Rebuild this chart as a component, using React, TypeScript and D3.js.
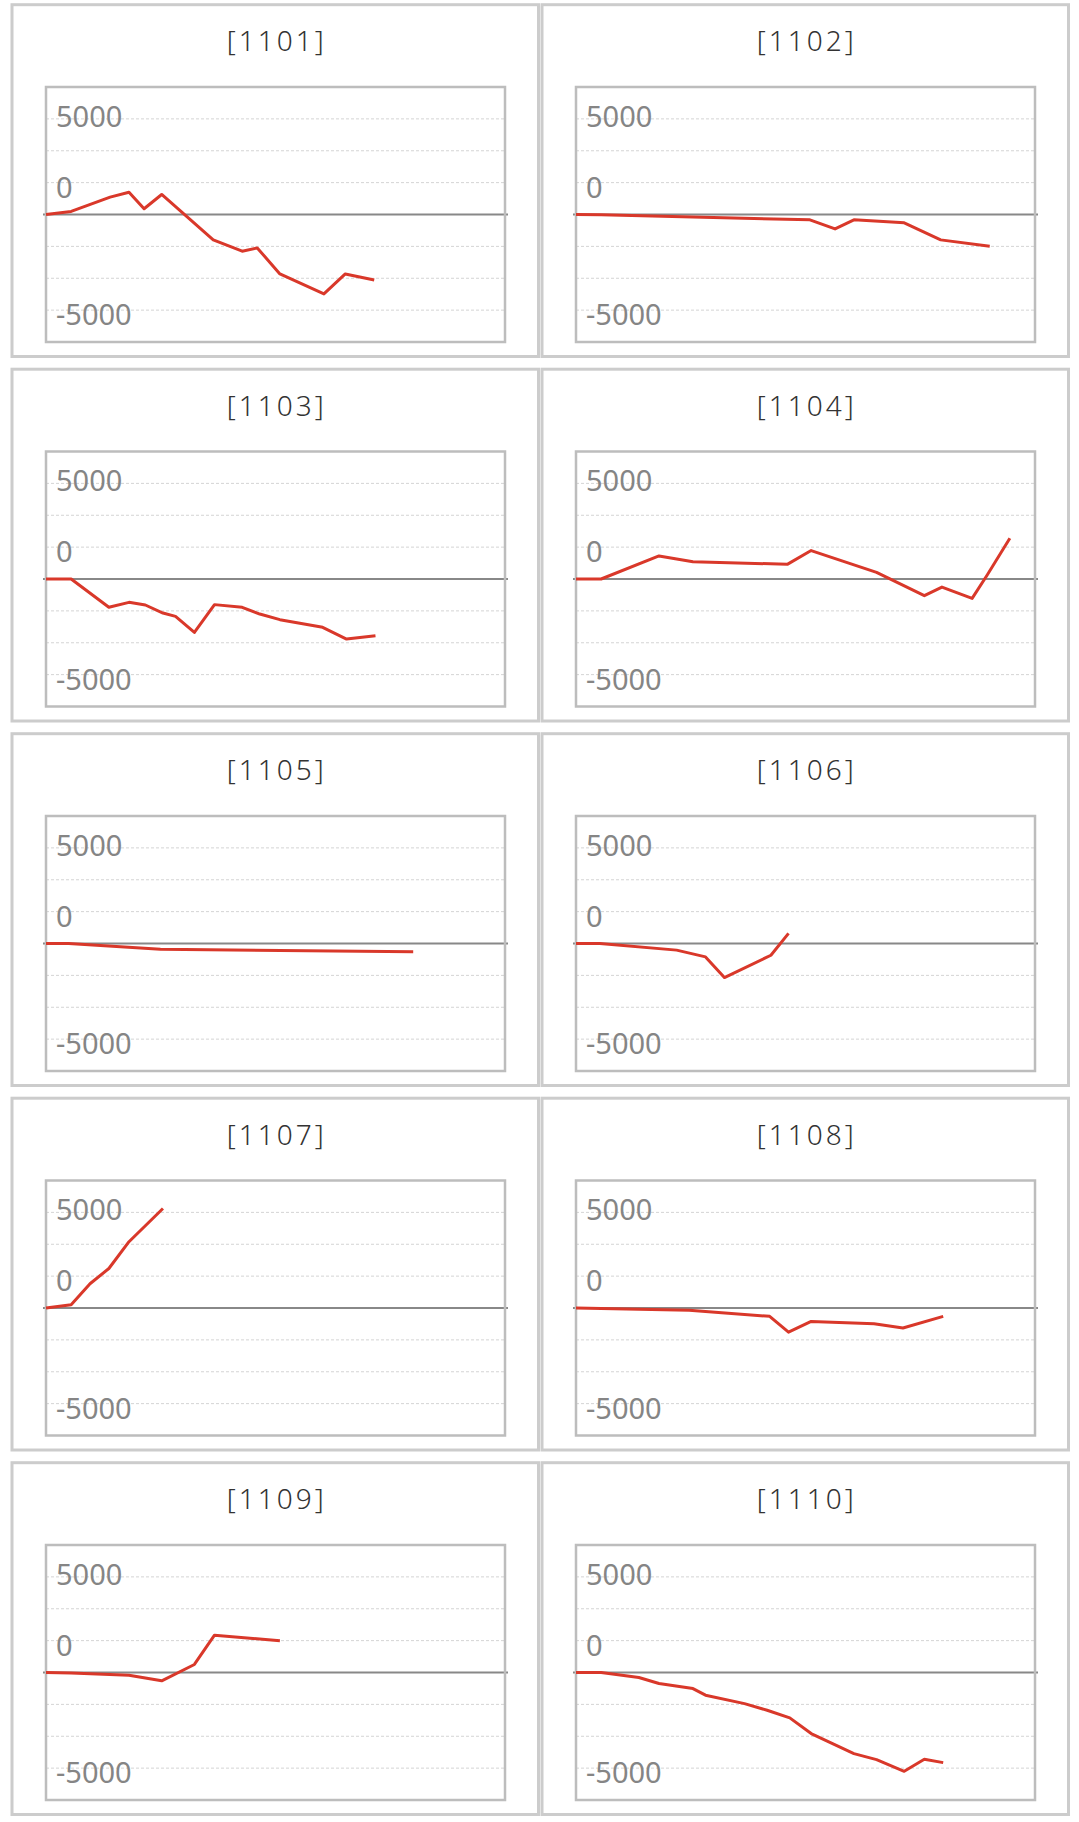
import React from "react";
import * as d3 from "d3";

// ---- data ----
const panelIds = ["1101", "1102", "1103", "1104", "1105", "1106", "1107", "1108", "1109", "1110"];

// [day, value]
const series1101: [number, number][] = [[0, 0], [20, 240], [51, 1360], [66, 1750], [78, 450], [92, 1570], [133, -1990], [156, -2880], [168, -2620], [186, -4660], [221, -6230], [238, -4660], [261, -5130]];
const series1102: [number, number][] = [[0, 0], [20, -20], [186, -420], [206, -1130], [221, -420], [261, -650], [290, -1990], [329, -2490]];
const series1103: [number, number][] = [[0, 0], [20, 0], [50, -2220], [66, -1830], [79, -2040], [93, -2670], [103, -2930], [118, -4190], [134, -2010], [156, -2220], [170, -2750], [186, -3190], [220, -3790], [239, -4710], [262, -4450]];
const series1104: [number, number][] = [[0, 0], [20, 0], [66, 1810], [93, 1360], [168, 1150], [187, 2230], [239, 520], [277, -1310], [291, -630], [315, -1520], [327, 310], [345, 3190]];
const series1105: [number, number][] = [[0, 0], [18, 0], [91, -445], [292, -655]];
const series1106: [number, number][] = [[0, 0], [19, 0], [80, -520], [103, -1050], [118, -2670], [155, -920], [169, 790]];
const series1107: [number, number][] = [[0, 0], [20, 260], [35, 1900], [50, 3100], [66, 5200], [93, 7800]];
const series1108: [number, number][] = [[0, 0], [90, -180], [154, -655], [169, -1900], [187, -1050], [237, -1230], [260, -1570], [292, -655]];
const series1109: [number, number][] = [[0, 0], [20, -30], [66, -210], [92, -655], [118, 630], [134, 2930], [186, 2490]];
const series1110: [number, number][] = [[0, 0], [20, 0], [50, -390], [66, -865], [93, -1260], [103, -1780], [134, -2440], [152, -2960], [170, -3560], [187, -4790], [204, -5580], [221, -6360], [239, -6830], [261, -7750], [277, -6810], [292, -7070]];

const seriesList = [series1101, series1102, series1103, series1104, series1105, series1106, series1107, series1108, series1109, series1110];

const xDomain: [number, number] = [0, 365];
const yDomain: [number, number] = [-10000, 10000];
const yGridValues = [-7500, -5000, -2500, 2500, 5000, 7500];
const yTickLabels = ["5000", "0", "-5000"];
const yTickLabelAt = [6900, 1300, -8700];

// ---- layout ----
const W = 1079;
const H = 1822;
const PANEL_X0 = 12;
const COL_PITCH = 530;
const PANEL_W = 526.5;
const PANEL_Y0 = 4.7;
const ROW_PITCH = 364.5;
const PANEL_H = 351.8;
const PLOT_L = 34;
const PLOT_R = 493;
const PLOT_T = 82.3;
const PLOT_B = 337.3;
const TITLE_Y = 46.3;

const FONT = "'Noto Sans', 'Open Sans', sans-serif";
const RED = "#d9382a";
const TITLE_LS = 3;

function Panel({ idx }: { idx: number }) {
  const col = idx % 2;
  const row = Math.floor(idx / 2);
  const px = PANEL_X0 + col * COL_PITCH;
  const py = PANEL_Y0 + row * ROW_PITCH;
  const x = d3.scaleLinear().domain(xDomain).range([px + PLOT_L, px + PLOT_R]);
  const y = d3.scaleLinear().domain(yDomain).range([py + PLOT_B, py + PLOT_T]);
  const line = d3
    .line<[number, number]>()
    .x((d) => x(d[0]))
    .y((d) => y(d[1]));
  const data = seriesList[idx];
  return (
    <g>
      <rect x={px} y={py} width={PANEL_W} height={PANEL_H} fill="#fff" stroke="#cccccc" strokeWidth={3} />
      <text
        x={px + PANEL_W / 2 + TITLE_LS / 2}
        y={py + TITLE_Y}
        textAnchor="middle"
        fontFamily={FONT}
        fontSize={28}
        fontWeight={300}
        letterSpacing={TITLE_LS}
        fill="#333"
      >
        [{panelIds[idx]}]
      </text>
      {yGridValues.map((v) => (
        <line
          key={v}
          x1={px + PLOT_L}
          x2={px + PLOT_R}
          y1={y(v)}
          y2={y(v)}
          stroke="#d4d4d4"
          strokeWidth={1}
          strokeDasharray="3,2"
        />
      ))}
      <line x1={px + PLOT_L - 3} x2={px + PLOT_R + 3} y1={y(0)} y2={y(0)} stroke="#888" strokeWidth={2} />
      {yTickLabels.map((t, i) => (
        <text key={t} x={px + PLOT_L + 10} y={y(yTickLabelAt[i])} fontFamily={FONT} fontSize={29} fill="#858585">
          {t}
        </text>
      ))}
      <rect
        x={px + PLOT_L}
        y={py + PLOT_T}
        width={PLOT_R - PLOT_L}
        height={PLOT_B - PLOT_T}
        fill="none"
        stroke="#bdbdbd"
        strokeWidth={2.5}
      />
      <path d={line(data) || ""} fill="none" stroke={RED} strokeWidth={3} strokeLinejoin="round" />
    </g>
  );
}

export default function App() {
  return (
    <svg
      width={W}
      height={H}
      viewBox={`0 0 ${W} ${H}`}
      style={{ position: "absolute", left: 0, top: 0, background: "#fff" }}
    >
      <rect x={0} y={0} width={W} height={H} fill="#fff" />
      {panelIds.map((id, i) => (
        <Panel key={id} idx={i} />
      ))}
    </svg>
  );
}
